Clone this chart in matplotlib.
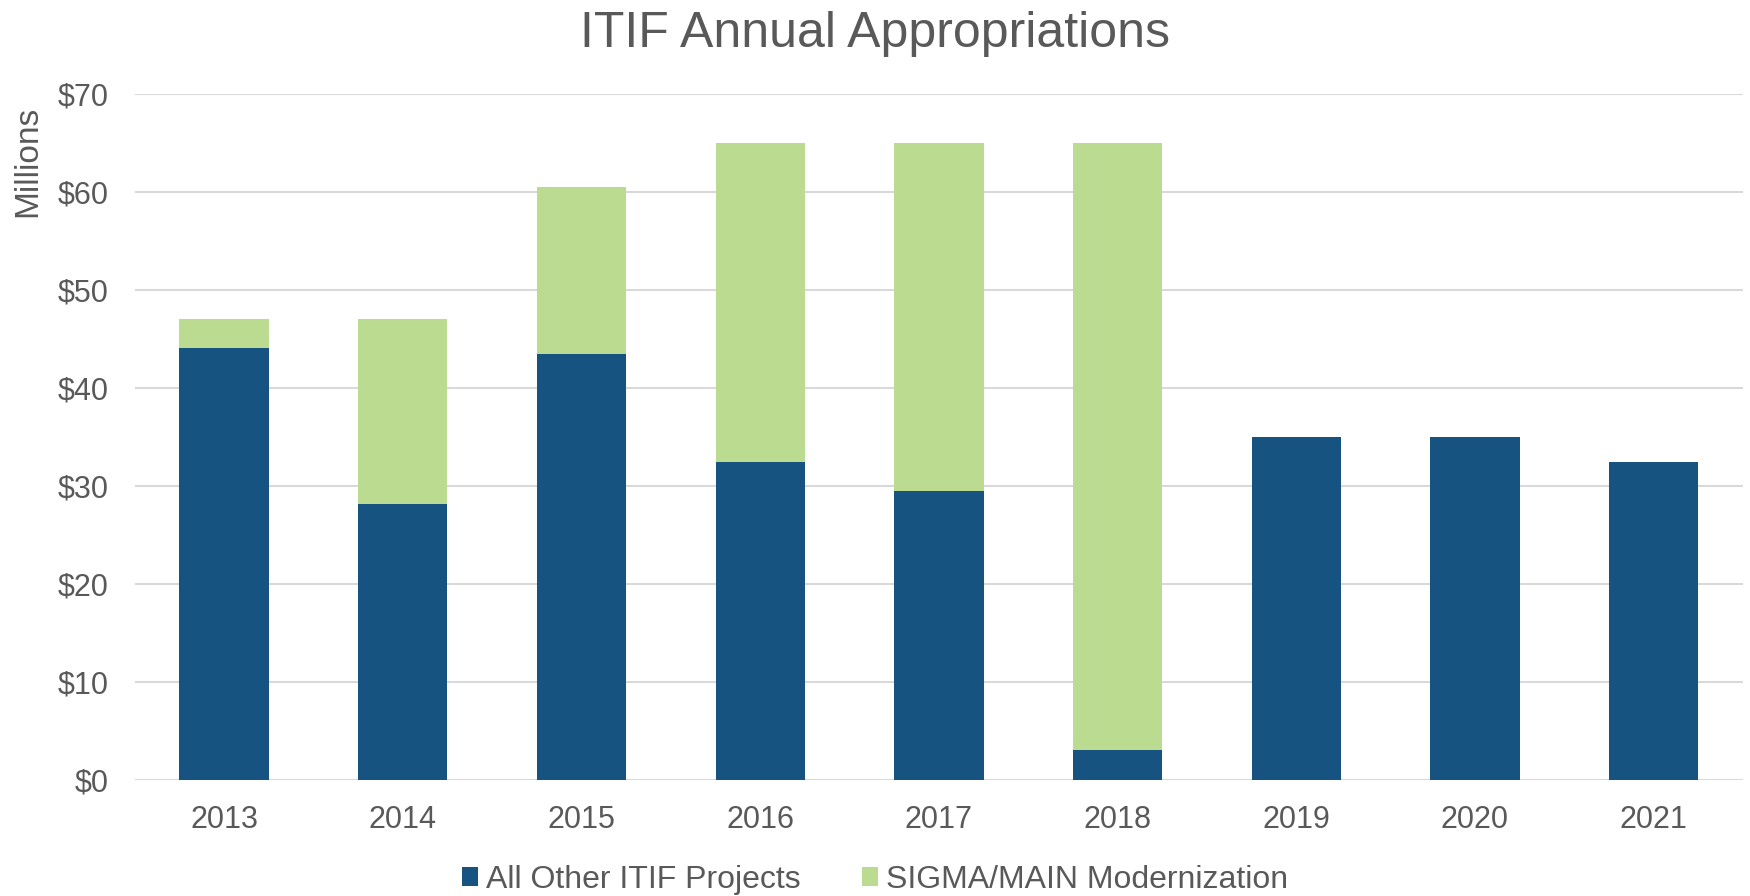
import numpy as np
import matplotlib
matplotlib.use("Agg")
import matplotlib.pyplot as plt

plt.rcParams['font.family'] = ['Liberation Sans', 'DejaVu Sans']

# dados (milhoes de dolares)
anos = ['2013', '2014', '2015', '2016', '2017', '2018', '2019', '2020', '2021']
outros = [44.1, 28.2, 43.5, 32.4, 29.5, 3.1, 35.0, 35.0, 32.5]
sigma = [2.9, 18.8, 17.0, 32.6, 35.5, 61.9, 0.0, 0.0, 0.0]
nome_outros = 'All Other ITIF Projects'
nome_sigma = 'SIGMA/MAIN Modernization'

azul = '#175380'
verde = '#bbdb91'
cinza = '#595959'

fig = plt.figure(figsize=(17.5, 8.96), dpi=100)
ax = fig.add_axes([0.077, 0.1295, 0.919, 0.7655])

x = np.arange(len(anos))
ax.bar(x, outros, width=0.5, color=azul, label=nome_outros, zorder=3)
ax.bar(x, sigma, width=0.5, bottom=outros, color=verde, label=nome_sigma, zorder=3)

ax.set_xlim(-0.5, len(anos) - 0.5)
ax.set_ylim(0, 70)
ax.set_yticks(np.arange(0, 71, 10))
ax.set_yticklabels(['$%d' % v for v in range(0, 71, 10)])
ax.set_xticks(x)
ax.set_xticklabels(anos)
ax.yaxis.grid(True, color='#d9d9d9', linewidth=1.5, zorder=0)
ax.set_axisbelow(True)
for s in ax.spines.values():
    s.set_visible(False)
ax.tick_params(axis='both', length=0, labelsize=22, colors=cinza)
ax.tick_params(axis='y', pad=19)
ax.tick_params(axis='x', pad=18)

fig.text(0.5, 0.962, 'ITIF Annual Appropriations', ha='center', va='center',
         fontsize=36, color=cinza)
fig.text(0.016, 0.82, 'Millions', rotation=90, ha='center', va='center',
         fontsize=24, color=cinza)

leg = fig.legend(loc='center', bbox_to_anchor=(0.5, 0.018), ncol=2, frameon=False,
                 fontsize=23, handlelength=0.5, handleheight=0.5,
                 handletextpad=0.25, columnspacing=1.9)
for t in leg.get_texts():
    t.set_color(cinza)

fig.savefig('out.png', dpi=100)
